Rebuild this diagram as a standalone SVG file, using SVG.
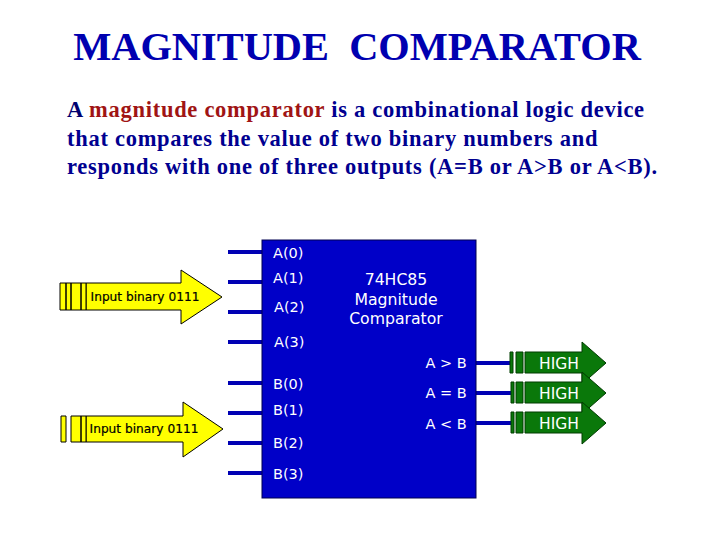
<svg xmlns="http://www.w3.org/2000/svg" width="720" height="540" viewBox="0 0 720 540">
<style>
.t{font-family:"Liberation Serif",serif;font-weight:700}
.body{font-size:22.5px;fill:#000090;letter-spacing:.72px}
.s{font-family:"DejaVu Sans",sans-serif;font-size:14.5px;fill:#fff}
.h{font-family:"DejaVu Sans",sans-serif;font-size:15.5px;fill:#fff}
.l{font-family:"DejaVu Sans",sans-serif;font-size:12.2px;font-weight:400;fill:#000;stroke:#000;stroke-width:.2}
.pin{stroke:#0000b4;stroke-width:4;fill:none}
.y{fill:#ff0;stroke:#000;stroke-width:1}
.g{fill:#0a780a;stroke:#003c00;stroke-width:1}
</style>
<rect width="720" height="540" fill="#fff"/>
<text class="t" x="357" y="60" font-size="40.4" fill="#0000b0" text-anchor="middle" xml:space="preserve">MAGNITUDE  COMPARATOR</text>
<text class="t body" x="67" y="117"><tspan fill="#000070">A </tspan><tspan fill="#a01414">magnitude comparator</tspan> is a combinational logic device</text>
<text class="t body" x="67" y="146">that compares the value of two binary numbers and</text>
<text class="t body" x="67" y="174">responds with one of three outputs (A=B or A&gt;B or A&lt;B).</text>
<g id="connectors">
<path class="pin" d="M228 252H262M228 282H262M228 312H262M228 342H262M228 383H262M228 413H262M228 443H262M228 473H262M476 363H510M476 393H512M476 423H512"/>
</g>
<g id="comparator">
<rect x="262" y="240" width="214" height="258" fill="#0000c8" stroke="#000050" stroke-width="1"/>
<text class="s" x="273" y="258">A(0)</text>
<text class="s" x="273" y="283">A(1)</text>
<text class="s" x="274" y="312">A(2)</text>
<text class="s" x="274" y="347">A(3)</text>
<text class="s" x="273" y="389">B(0)</text>
<text class="s" x="273" y="415">B(1)</text>
<text class="s" x="273" y="448">B(2)</text>
<text class="s" x="273" y="479">B(3)</text>
<g class="s" text-anchor="middle" style="font-size:15.7px">
<text x="396" y="285">74HC85</text>
<text x="396" y="305">Magnitude</text>
<text x="396" y="324">Comparator</text>
</g>
<text class="s" x="446" y="368" text-anchor="middle">A &gt; B</text>
<text class="s" x="446" y="398" text-anchor="middle">A = B</text>
<text class="s" x="446" y="429" text-anchor="middle">A &lt; B</text>
</g>
<g id="input-a">
<path class="y" d="M86 283H181V270L222 297L181 324V310H86Z"/>
<path class="y" d="M60 283H66V310H60ZM66 283H71V310H66ZM71 283H81V310H71ZM81 283H86V310H81Z"/>
<text class="l" x="145" y="301" text-anchor="middle">Input binary 0111</text>
</g>
<g id="input-b">
<path class="y" d="M86 416H183V402L223 429L183 457V442H86Z"/>
<path class="y" d="M61 416H66V442H61ZM71 416H81V442H71ZM81 416H86V442H81Z"/>
<text class="l" x="144" y="433" text-anchor="middle">Input binary 0111</text>
</g>
<g id="out-gt">
<path class="g" d="M525 352H582V342L606 363L582 384V373H525Z"/>
<path class="g" d="M510 352H513V373H510ZM516 352H523V373H516Z"/>
<text class="h" x="559" y="369" text-anchor="middle">HIGH</text>
</g>
<g id="out-eq">
<path class="g" d="M525 382H582V372L606 393L582 414V403H525Z"/>
<path class="g" d="M511 382H514V403H511ZM516 382H523V403H516Z"/>
<text class="h" x="559" y="399" text-anchor="middle">HIGH</text>
</g>
<g id="out-lt">
<path class="g" d="M525 412H582V402L606 423L582 444V433H525Z"/>
<path class="g" d="M511 412H514V433H511ZM516 412H523V433H516Z"/>
<text class="h" x="559" y="429" text-anchor="middle">HIGH</text>
</g>
</svg>
